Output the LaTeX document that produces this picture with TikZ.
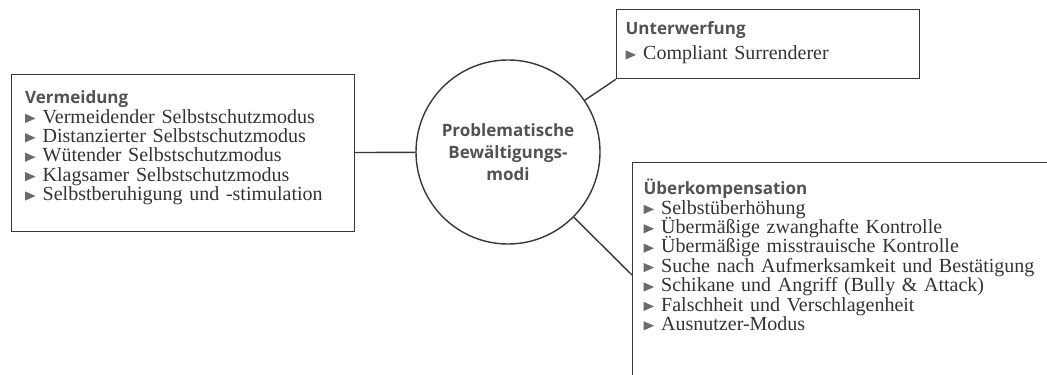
\documentclass[tikz,border=0pt]{standalone}
\usepackage{fontspec}
\setmainfont{Liberation Serif}
\newfontfamily\headfont{Open Sans}
\usepackage{tikz}
\usetikzlibrary{positioning}
\definecolor{inkgray}{gray}{0.2}
\definecolor{headgray}{gray}{0.32}
\definecolor{bulletgray}{gray}{0.42}
\definecolor{linegray}{gray}{0.22}
\tikzstyle{location}=[rectangle, draw=linegray, line width=0.6pt, anchor=north west, inner ysep=0pt, align=left, text=inkgray, font={\fontsize{10}{9.7}\selectfont\lineskiplimit=-20pt}]
\tikzstyle{hub}=[circle, draw=linegray, line width=0.7pt, minimum size=92pt, inner sep=0pt, align=center, text=headgray, font={\headfont\bfseries\fontsize{8.5}{11}\selectfont}]
\tikzstyle{tran}=[draw=linegray, line width=0.7pt]
\newcommand{\modus}{\tikz[baseline=0pt]\fill[bulletgray] (0pt,0pt) -- (0pt,4.6pt) -- (5.2pt,2.3pt) -- cycle;\hspace{3.6pt}}
\newcommand{\titel}[1]{{\headfont\bfseries\fontsize{8.5}{9.7}\selectfont\color{headgray}#1}}

\begin{document}
\begin{tikzpicture}[x=0.5pt, y=-0.5pt]

\path[use as bounding box] (0,0) rectangle (1047,374);
\clip (0,0) rectangle (1047,374);

\node[location, inner xsep=6.75pt, text width=158pt, text height=14.5pt, text depth=64pt] (vermeid) at (11,74)
{
\titel{Vermeidung}\\
\modus Vermeidender Selbstschutzmodus\\
\modus Distanzierter Selbstschutzmodus\\
\modus Wütender Selbstschutzmodus\\
\modus Klagsamer Selbstschutzmodus\\
\modus Selbstberuhigung und -stimulation
};

\node[hub] (modi) at (508,152)
{Problematische\\Bewältigungs-\\modi};

\node[location, inner xsep=4.5pt, text width=142.5pt, text height=12.5pt, text depth=22pt] (unterw) at (616,9)
{
\titel{Unterwerfung}\\[2.75pt]
\modus Compliant Surrenderer
};

\node[location, inner xsep=5.5pt, text width=197pt, text height=16pt, text depth=110pt] (ueberk) at (632,162)
{
\titel{Überkompensation}\\
\modus Selbstüberhöhung\\
\modus Übermäßige zwanghafte Kontrolle\\
\modus Übermäßige misstrauische Kontrolle\\
\modus Suche nach Aufmerksamkeit und Bestätigung\\
\modus Schikane und Angriff (Bully \& Attack)\\
\modus Falschheit und Verschlagenheit\\
\modus Ausnutzer-Modus
};

\coordinate (einstieg) at ([yshift=-56.5pt]ueberk.north west);

\draw[tran] (vermeid)         -- (modi);
\draw[tran] (unterw.south west) -- (modi);
\draw[tran] (modi)            -- (einstieg);

\end{tikzpicture}
\end{document}
